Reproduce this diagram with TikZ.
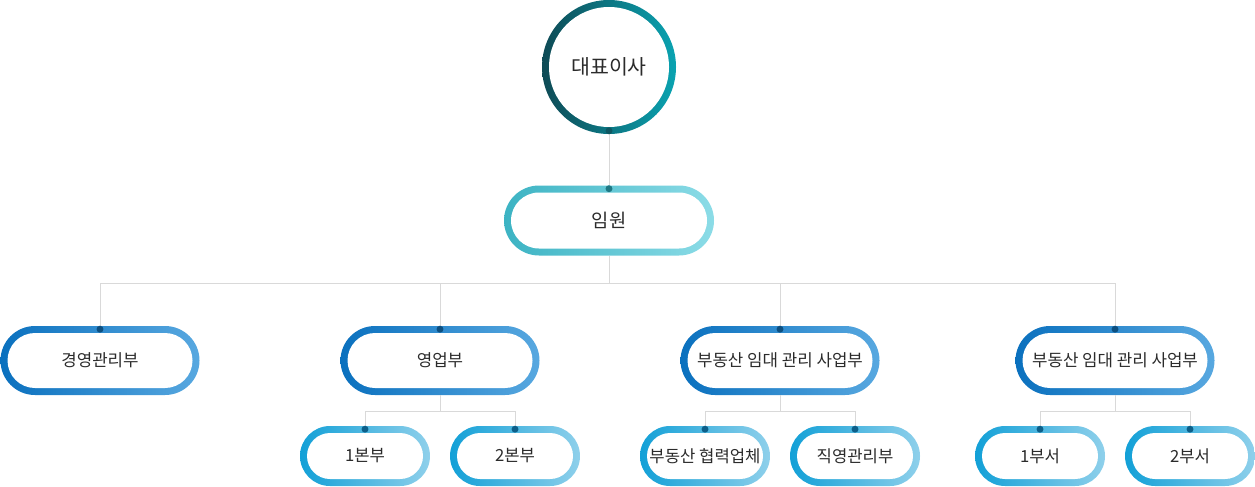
\documentclass[tikz,border=0pt]{standalone}
\usepackage{fontspec}
\setmainfont{Noto Sans CJK KR}
\usepackage{tikz}

\definecolor{ceoleft}{HTML}{0E4A55}
\definecolor{ceoright}{HTML}{0AA3B1}
\definecolor{leadleft}{HTML}{3CB3C3}
\definecolor{leadright}{HTML}{8CDCE7}
\definecolor{deptleft}{HTML}{0A70BE}
\definecolor{deptright}{HTML}{58A8E0}
\definecolor{teamleft}{HTML}{12A0D7}
\definecolor{teamright}{HTML}{8FD0EB}
\definecolor{dotceo}{HTML}{0E5762}
\definecolor{dotlead}{HTML}{1F7884}
\definecolor{dotdept}{HTML}{0D4F80}
\definecolor{dotteam}{HTML}{0D5F89}
\definecolor{linkgray}{HTML}{D9D9D9}
\definecolor{txtgray}{HTML}{2B2B2B}

\tikzset{
  orgbox/.style n args={4}{minimum width=#1, minimum height=#2, inner sep=0pt,
    rounded corners=#3, text=txtgray,
    path picture={\fill[white,rounded corners=#4]
      ([shift={(5.25pt,5.25pt)}]path picture bounding box.south west) rectangle
      ([shift={(-5.25pt,-5.25pt)}]path picture bounding box.north east);}},
  lead/.style={orgbox={157.5pt}{52.5pt}{26.25pt}{21pt},
    left color=leadleft, right color=leadright, font=\fontsize{14}{16}\selectfont},
  dept/.style={orgbox={149.25pt}{51.75pt}{25.87pt}{20.62pt},
    left color=deptleft, right color=deptright, font=\fontsize{12.6}{15}\selectfont},
  team/.style={orgbox={97.5pt}{45pt}{22.5pt}{17.25pt},
    left color=teamleft, right color=teamright, font=\fontsize{12.5}{15}\selectfont},
  link/.style={draw=linkgray, line width=0.75pt}
}

\begin{document}
\begin{tikzpicture}[x=0.75pt,y=-0.75pt]
\useasboundingbox (0,0) rectangle (1255,486);

\node[circle, minimum size=100.5pt, inner sep=0pt, text=txtgray,
  left color=ceoleft, right color=ceoright, font=\fontsize{15.4}{18}\selectfont,
  path picture={\fill[white] (path picture bounding box.center) circle (45pt);}]
  (ceo) at (609,67) {대표이사};
\node[lead] (board) at (609,220.5) {임원};

\node[dept] (mgmt) at (100,360.5) {경영관리부};
\node[dept] (sales) at (440,360.5) {영업부};
\node[dept] (estA) at (780,360.5) {부동산 임대 관리 사업부};
\node[dept] (estB) at (1115,360.5) {부동산 임대 관리 사업부};

\node[team] (hqone) at (365,456) {1본부};
\node[team] (hqtwo) at (515,456) {2본부};
\node[team] (partner) at (705,456) {부동산 협력업체};
\node[team] (direct) at (855,456) {직영관리부};
\node[team] (secone) at (1040,456) {1부서};
\node[team] (sectwo) at (1190,456) {2부서};

% connectors
\coordinate (bus) at (609,283);
\coordinate (salesbus) at (440,411.5);
\coordinate (estAbus) at (780,411.5);
\coordinate (estBbus) at (1115,411.5);
\draw[link] (ceo.south) -- (board.north);
\draw[link] (board.south) -- (bus);
\draw[link] (bus) -| (mgmt.north);
\draw[link] (bus) -| (sales.north);
\draw[link] (bus) -| (estA.north);
\draw[link] (bus) -| (estB.north);
\draw[link] (sales.south) -- (salesbus);
\draw[link] (salesbus) -| (hqone.north);
\draw[link] (salesbus) -| (hqtwo.north);
\draw[link] (estA.south) -- (estAbus);
\draw[link] (estAbus) -| (partner.north);
\draw[link] (estAbus) -| (direct.north);
\draw[link] (estB.south) -- (estBbus);
\draw[link] (estBbus) -| (secone.north);
\draw[link] (estBbus) -| (sectwo.north);

% dots
\fill[dotceo] ([yshift=2.6pt]ceo.south) circle (2.6pt);
\fill[dotlead] ([yshift=-2.6pt]board.north) circle (2.6pt);
\foreach \n in {mgmt,sales,estA,estB}
  \fill[dotdept] ([yshift=-2.6pt]\n.north) circle (2.6pt);
\foreach \n in {hqone,hqtwo,partner,direct,secone,sectwo}
  \fill[dotteam] ([yshift=-2.6pt]\n.north) circle (2.6pt);
\end{tikzpicture}
\end{document}
